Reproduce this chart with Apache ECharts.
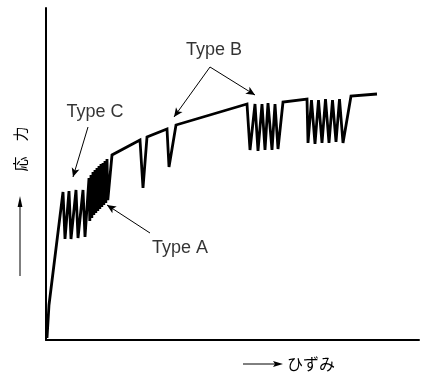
<!DOCTYPE html>
<html>
<head>
<meta charset="utf-8">
<script src="https://cdn.jsdelivr.net/npm/echarts@6/dist/echarts.min.js"></script>
<style>
  html, body { margin: 0; padding: 0; background: #fff; }
  #chart { width: 425px; height: 378px; }
</style>
</head>
<body>
<div id="chart"></div>
<script>
// Stress–strain curve with serrated flow (arbitrary units).
// Elastic rise + Type C serrations
const strainC = [1, 3, 17, 19, 23, 25, 30, 32, 37, 39];
const stressC = [2, 35, 148, 101, 149, 101, 150, 102, 150, 103];
// Type A: dense small serrations
const strainA = [43, 43.8, 45, 45.8, 47, 47.8, 49, 49.8, 51, 51.8, 53, 53.8, 55, 55.8, 57, 57.8, 59, 59.8, 61, 61.8, 66];
const stressA = [162, 119, 165, 122, 168, 125, 170, 127, 172, 129, 174, 131, 176, 133, 177, 135, 179, 137, 181, 140, 185];
// Hardening with isolated Type B drops
const strainMid = [94, 97, 101, 121, 123, 130, 201];
const stressMid = [200, 152, 203, 211, 173, 215, 236];
// Type B bursts
const strainB1 = [204, 209, 212, 216, 219, 222, 226, 229, 232, 237, 261];
const stressB1 = [190, 236, 189, 236, 190, 237, 190, 236, 191, 238, 241];
const strainB2 = [262, 265.5, 269, 272.5, 276, 279.5, 283, 286.5, 290, 293.5, 297, 305, 331];
const stressB2 = [197, 240, 196, 240, 197, 241, 197, 240, 198, 241, 197, 244, 246];

// Annotation labels and their pointer arrows (data units)
const labelNames = ['Type C', 'Type B', 'Type A'];
const labelX = [49, 168, 134];
const labelY = [228, 290, 92];
const arrowFrom = [[42, 213], [164, 273], [164, 273], [104, 107]];
const arrowTo = [[27, 163], [128, 223], [209, 245], [61, 135]];

const strain = [].concat(strainC, strainA, strainMid, strainB1, strainB2);
const stress = [].concat(stressC, stressA, stressMid, stressB1, stressB2);
const curve = strain.map((x, i) => [x, stress[i]]);

const labels = labelNames.map((n, i) => ({ name: n, value: [labelX[i], labelY[i]] }));
const arrows = arrowFrom.map((p, i) => [{ coord: p }, { coord: arrowTo[i] }]);

const chart = echarts.init(document.getElementById('chart'), null, { renderer: 'canvas' });

const axisCommon = {
  type: 'value',
  axisLine: { show: true, lineStyle: { color: '#000', width: 2 } },
  axisTick: { show: false },
  axisLabel: { show: false },
  splitLine: { show: false }
};

chart.setOption({
  animation: false,
  backgroundColor: '#fff',
  grid: { left: 46, right: 6, top: 8, bottom: 38, containLabel: false },
  xAxis: Object.assign({ min: 0, max: 373 }, axisCommon),
  yAxis: Object.assign({ min: 0, max: 332 }, axisCommon),
  series: [
    {
      type: 'line',
      data: curve,
      showSymbol: false,
      symbol: 'none',
      silent: true,
      lineStyle: { color: '#000', width: 2.8, join: 'miter', miterLimit: 6 },
      markLine: {
        silent: true,
        symbol: ['none', 'arrow'],
        symbolSize: [6, 9],
        label: { show: false },
        lineStyle: { color: '#000', width: 1, type: 'solid' },
        emphasis: { disabled: true },
        data: arrows
      }
    },
    {
      type: 'scatter',
      data: labels,
      symbolSize: 0,
      silent: true,
      label: {
        show: true,
        position: 'inside',
        formatter: '{b}',
        color: '#000',
        fontSize: 18,
        fontFamily: 'Liberation Sans, Arial, sans-serif'
      }
    }
  ],
  graphic: [
    // y-axis title and upward arrow
    {
      type: 'text', x: 20, y: 149, rotation: Math.PI / 2,
      style: { text: '応　力', font: '15px "Noto Sans CJK JP"', fill: '#000',
               align: 'center', verticalAlign: 'middle', textAlign: 'center', textVerticalAlign: 'middle' }
    },
    { type: 'line', shape: { x1: 20, y1: 276, x2: 20, y2: 204 }, style: { stroke: '#000', lineWidth: 1 } },
    { type: 'polygon', shape: { points: [[20, 196], [17.6, 207], [22.4, 207]] }, style: { fill: '#000' } },
    // x-axis title and rightward arrow
    { type: 'line', shape: { x1: 243, y1: 364, x2: 276, y2: 364 }, style: { stroke: '#000', lineWidth: 1 } },
    { type: 'polygon', shape: { points: [[283, 364], [273, 361], [275, 364], [273, 367]] }, style: { fill: '#000' } },
    {
      type: 'text', x: 287, y: 364,
      style: { text: 'ひずみ', font: '16px "Noto Sans CJK JP"', fill: '#000',
               align: 'left', verticalAlign: 'middle', textAlign: 'left', textVerticalAlign: 'middle' }
    }
  ]
});
</script>
</body>
</html>
